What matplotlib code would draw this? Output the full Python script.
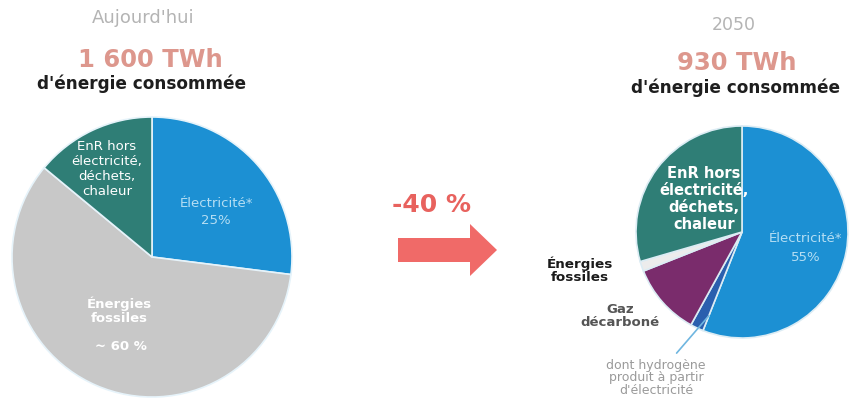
import numpy as np
import matplotlib
matplotlib.use("Agg")
import matplotlib.pyplot as plt
import matplotlib.patches as patches

# data (shares in %, clockwise from the top)
today_labels = ["Électricité", "Énergies fossiles", "EnR hors électricité, déchets, chaleur"]
today_values = [27, 59, 14]

future_labels = ["Électricité", "Hydrogène", "Gaz décarboné", "Énergies fossiles",
                 "EnR hors électricité, déchets, chaleur"]
future_values = [56, 2, 11, 1.5, 29.5]

totals = ["1 600 TWh", "930 TWh"]
periods = ["Aujourd'hui", "2050"]
change = "-40 %"

blue = "#1c90d3"
teal = "#2f7e76"
gray = "#c8c8c8"
purple = "#7a2c6c"
dark_blue = "#2a5fae"
pale = "#ececec"
salmon = "#dd978d"
red = "#f06a68"

W, H = 850, 410


def y(v):
    # image rows -> plot coordinates
    return H - v


fig = plt.figure(figsize=(8.5, 4.1), dpi=100)
ax = fig.add_axes([0, 0, 1, 1])

# left pie
ax.pie(today_values, colors=[blue, gray, teal], startangle=90, counterclock=False,
       center=(152, y(258)), radius=140,
       wedgeprops=dict(edgecolor="#e6f3fa", linewidth=1.2))

# right pie
wedges, _ = ax.pie(future_values, colors=[blue, dark_blue, purple, pale, teal],
                   startangle=90, counterclock=False,
                   center=(742, y(233)), radius=106,
                   wedgeprops=dict(edgecolor="#dcecf4", linewidth=1.2))

# headings
ax.text(143, y(18), periods[0], ha="center", va="center", fontsize=13, color="#b4b4b4")
ax.text(150, y(60), totals[0], ha="center", va="center", fontsize=17.5, fontweight="bold", color=salmon)
ax.text(141, y(84), "d'énergie consommée", ha="center", va="center", fontsize=12.2, fontweight="bold", color="#1e1e1e")

ax.text(734, y(25), periods[1], ha="center", va="center", fontsize=12.5, color="#b4b4b4")
ax.text(737, y(63), totals[1], ha="center", va="center", fontsize=17.5, fontweight="bold", color=salmon)
ax.text(736, y(88), "d'énergie consommée", ha="center", va="center", fontsize=12.2, fontweight="bold", color="#1e1e1e")

# left pie labels
ax.text(107, y(169), "EnR hors\nélectricité,\ndéchets,\nchaleur", ha="center", va="center",
        fontsize=9.5, color="white", linespacing=1.2)
ax.text(216, y(212), "Électricité*\n25%", ha="center", va="center",
        fontsize=9.5, color="#b5def3", linespacing=1.45)
ax.text(119, y(311), "Énergies\nfossiles", ha="center", va="center",
        fontsize=9.5, fontweight="bold", color="white", linespacing=1.1)
ax.text(121, y(347), "~ 60 %", ha="center", va="center", fontsize=9.5, fontweight="bold", color="white")

# right pie labels
ax.text(704, y(199), "EnR hors\nélectricité,\ndéchets,\nchaleur", ha="center", va="center",
        fontsize=10.5, fontweight="bold", color="white", linespacing=1.15)
ax.text(806, y(248), "Électricité*\n55%", ha="center", va="center",
        fontsize=9.5, color="#b5def3", linespacing=1.6)
ax.text(580, y(270), "Énergies\nfossiles", ha="center", va="center",
        fontsize=9.7, fontweight="bold", color="#1a1a1a", linespacing=1.0)
ax.text(620, y(316), "Gaz\ndécarboné", ha="center", va="center",
        fontsize=9.5, fontweight="bold", color="#555555", linespacing=1.0)

# leader line from the hydrogen slice
h = wedges[1]
ang = np.deg2rad(h.theta2)
cx, cy = h.center
tip = (cx + 0.85 * h.r * np.cos(ang), cy + 0.85 * h.r * np.sin(ang))
ax.annotate("dont hydrogène\nproduit à partir\nd'électricité", xy=tip, xytext=(656, y(378)),
            ha="center", va="center", fontsize=9, color="#9a9a9a", linespacing=0.95,
            arrowprops=dict(arrowstyle="-", color="#6fb6e0", lw=1.2,
                            shrinkA=2, shrinkB=0))

# middle arrow and change
ax.text(432, y(205), change, ha="center", va="center", fontsize=18, fontweight="bold", color="#e8625e")
arrow = patches.FancyArrow(398, y(251), 99, 0, width=24, head_width=52, head_length=27,
                           length_includes_head=True, color=red, linewidth=0)
ax.add_patch(arrow)

ax.set_xlim(0, W)
ax.set_ylim(0, H)
ax.set_aspect("equal")
ax.axis("off")

fig.savefig("out.png", dpi=100)
